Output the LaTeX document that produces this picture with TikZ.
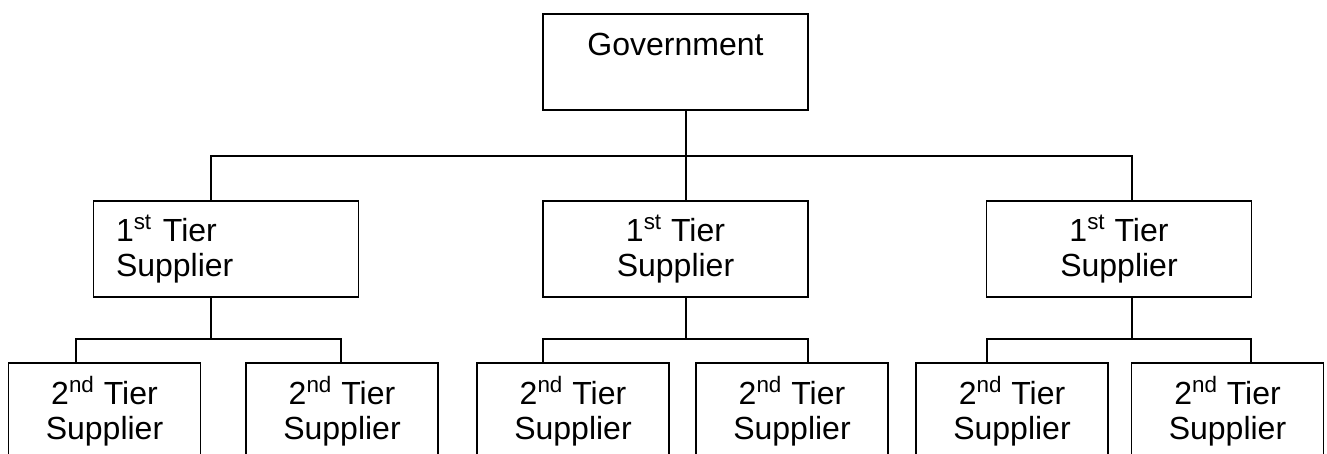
\documentclass[tikz,border=0pt]{standalone}
\usepackage{fontspec}
\setmainfont{Liberation Sans}

\begin{document}
\begin{tikzpicture}[
    x=0.5pt, y=-0.5pt,
    line width=0.9pt,
    box/.style = {draw, rectangle, minimum height=48pt, inner sep=0pt, align=center, font=\fontsize{16}{17.5}\selectfont},
    tierone/.style = {box, minimum width=132.5pt},
    tiertwo/.style = {box, minimum width=96pt}
]
\useasboundingbox (0,0) rectangle (1327,454);
\clip (0,0) rectangle (1327,454);

\node[tierone] (gov) at (675.5,62) {Government\\\mbox{}};

\node[tierone, text width=110pt, inner xsep=11pt, align=left] (t1a) at (226,249) {1\textsuperscript{st} Tier\\Supplier};
\node[tierone] (t1b) at (675.5,249) {1\textsuperscript{st} Tier\\Supplier};
\node[tierone] (t1c) at (1119,249) {1\textsuperscript{st} Tier\\Supplier};

\node[tiertwo] (t2a) at (104.5,411) {2\textsuperscript{nd} Tier\\Supplier};
\node[tiertwo] (t2b) at (342,411) {2\textsuperscript{nd} Tier\\Supplier};
\node[tiertwo] (t2c) at (573,411) {2\textsuperscript{nd} Tier\\Supplier};
\node[tiertwo] (t2d) at (792,411) {2\textsuperscript{nd} Tier\\Supplier};
\node[tiertwo] (t2e) at (1012,411) {2\textsuperscript{nd} Tier\\Supplier};
\node[tiertwo] (t2f) at (1227.5,411) {2\textsuperscript{nd} Tier\\Supplier};

\coordinate (bus0) at (0,156);
\coordinate (bus1) at (0,339);

% government to first tier
\draw ([xshift=5.25pt]gov.south) -- ([xshift=5.25pt]gov.south |- bus0);
\draw ([xshift=-7.5pt]t1a.north) |- ([xshift=6.5pt]t1c.north |- bus0) -- ([xshift=6.5pt]t1c.north);
\draw ([xshift=5.25pt]t1b.north) -- ([xshift=5.25pt]t1b.north |- bus0);

% first tier to second tier
\draw ([xshift=-7.5pt]t1a.south) -- ([xshift=-7.5pt]t1a.south |- bus1);
\draw ([xshift=-14.25pt]t2a.north) |- ([xshift=-0.5pt]t2b.north |- bus1) -- ([xshift=-0.5pt]t2b.north);
\draw ([xshift=5.25pt]t1b.south) -- ([xshift=5.25pt]t1b.south |- bus1);
\draw ([xshift=-15pt]t2c.north) |- ([xshift=8pt]t2d.north |- bus1) -- ([xshift=8pt]t2d.north);
\draw ([xshift=6.5pt]t1c.south) -- ([xshift=6.5pt]t1c.south |- bus1);
\draw ([xshift=-12.5pt]t2e.north) |- ([xshift=11.75pt]t2f.north |- bus1) -- ([xshift=11.75pt]t2f.north);

\end{tikzpicture}
\end{document}
